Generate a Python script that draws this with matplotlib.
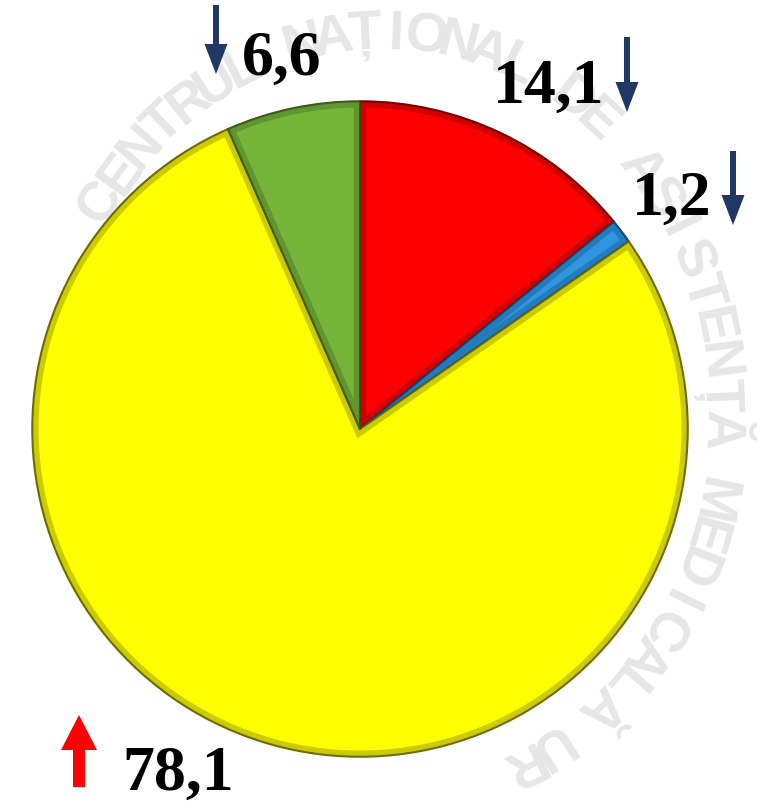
import numpy as np
import matplotlib
matplotlib.use("Agg")
import matplotlib.pyplot as plt
from matplotlib.patches import FancyArrow, Wedge

# date
valori = [14.1, 1.2, 78.1, 6.6]
etichete = ['14,1', '1,2', '78,1', '6,6']
culori = ['#ff0000', '#2f96e0', '#ffff00', '#76b539']
margini = ['#7a0000', '#0d4a7a', '#6e6a00', '#3a5c18']
tendinta = ['jos', 'jos', 'sus', 'jos']

W, H = 757, 803
fig = plt.figure(figsize=(W / 100, H / 100), dpi=100)

# fundal in pixeli (origine sus-stanga)
bg = fig.add_axes([0, 0, 1, 1])
bg.set_xlim(0, W)
bg.set_ylim(H, 0)
bg.axis('off')

# filigran pe o elipsa (doar literele care incap in imagine)
filigran = "CENTRUL NAȚIONAL DE ASISTENȚĂ MEDICALĂ URGENTĂ"
cx, cy, rx, ry = 382, 415, 338, 380
for i, ch in enumerate(filigran):
    if ch == ' ':
        continue
    th = np.radians(-56 + 5.3 * i)
    x = cx + rx * np.sin(th)
    y = cy - ry * np.cos(th)
    if x < 28 or x > W - 28 or y < 28 or y > H - 40:
        continue
    # unghiul normalei la elipsa
    nx_, ny_ = np.sin(th) / rx, np.cos(th) / ry
    rot = -np.degrees(np.arctan2(nx_, ny_))
    bg.text(x, y, ch, rotation=rot, rotation_mode='anchor',
            ha='center', va='center', fontsize=40, fontweight='bold',
            family='Liberation Sans', color='#e6e6e6', zorder=0)

# pie
R = 331
ax = fig.add_axes([(360 - R) / W, (H - 430 - R) / H, 2 * R / W, 2 * R / H])
wedges, _ = ax.pie(valori, colors=culori, startangle=90, counterclock=False,
                   radius=1.0, wedgeprops=dict(linewidth=1.5))
for w, m in zip(wedges, margini):
    w.set_edgecolor(m)
    # umbra interioara pe margine (efect de relief)
    umbra = Wedge(w.center, w.r, w.theta1, w.theta2, facecolor='none',
                  edgecolor=m, linewidth=9, alpha=0.35)
    ax.add_patch(umbra)
    umbra.set_clip_path(w)
ax.set_xlim(-1.01, 1.01)
ax.set_ylim(-1.01, 1.01)
ax.set_aspect('equal')
ax.axis('off')

# etichete: (x stanga, baseline) si sageata (x, y_start, y_varf)
poz_text = [(493, 103), (632, 215), (122, 790), (242, 75)]
poz_sag = [(627, 38, 113), (733, 152, 226), (79, 788, 716), (216, 6, 75)]

for lab, tr, (tx, ty), (xa, y0, y1) in zip(etichete, tendinta, poz_text, poz_sag):
    bg.text(tx, ty, lab, ha='left', va='baseline', fontsize=46,
            fontweight='bold', family='Liberation Serif', color='black')
    if tr == 'sus':
        col, lw, hw, hl = '#ff0000', 12, 36, 35
    else:
        col, lw, hw, hl = '#1f3864', 6, 23, 30
    bg.add_patch(FancyArrow(xa, y0, 0, y1 - y0, width=lw, head_width=hw,
                            head_length=hl, length_includes_head=True,
                            color=col, linewidth=0))

fig.savefig('out.png', dpi=100)
